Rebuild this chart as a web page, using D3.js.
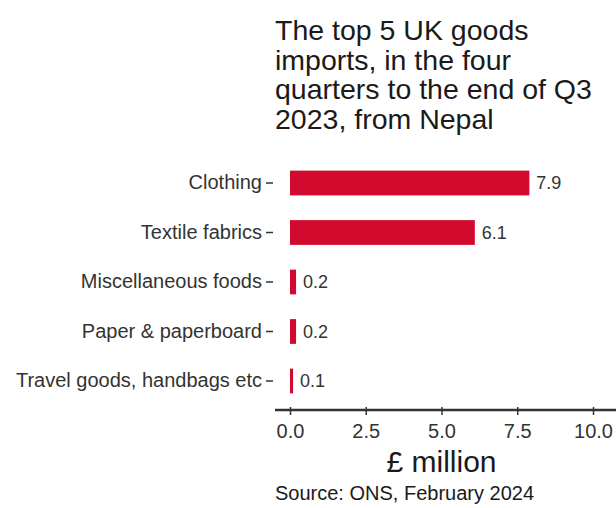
<!DOCTYPE html>
<html>
<head>
<meta charset="utf-8">
<script src="https://cdn.jsdelivr.net/npm/d3@7"></script>
<style>
  body { margin: 0; background: #fff; }
  svg { display: block; font-family: "Liberation Sans", Arial, sans-serif; }
</style>
</head>
<body>
<div id="chart"></div>
<script>
const categories = ["Clothing", "Textile fabrics", "Miscellaneous foods", "Paper & paperboard", "Travel goods, handbags etc"];
const values = [7.9, 6.1, 0.2, 0.2, 0.1];
const xTicks = [0, 2.5, 5, 7.5, 10];
const titleLines = ["The top 5 UK goods", "imports, in the four", "quarters to the end of Q3", "2023, from Nepal"];

const width = 616, height = 508;

const svg = d3.select("#chart")
    .append("svg")
    .attr("width", width)
    .attr("height", height);

const x = d3.scaleLinear()
    .domain([0, 10])
    .range([290, 593]);

const y = d3.scaleBand()
    .domain(categories)
    .range([158.25, 405.75])
    .paddingInner(0.5)
    .paddingOuter(0.25);

// title
svg.append("text")
    .attr("x", 275)
    .attr("y", 40)
    .style("font-size", "28.5px")
    .attr("fill", "#1a1a1a")
    .selectAll("tspan")
    .data(titleLines)
    .join("tspan")
    .attr("x", 275)
    .attr("dy", (d, i) => i === 0 ? 0 : 29.5)
    .text(d => d);

// bars
svg.selectAll(".bar")
    .data(values)
    .join("rect")
    .attr("class", "bar")
    .attr("x", x(0))
    .attr("y", (d, i) => y(categories[i]))
    .attr("width", d => x(d) - x(0))
    .attr("height", y.bandwidth())
    .attr("fill", "#d20a2e");

// value labels
svg.selectAll(".val")
    .data(values)
    .join("text")
    .attr("class", "val")
    .attr("x", d => x(d) + 7)
    .attr("y", (d, i) => y(categories[i]) + y.bandwidth() / 2)
    .attr("dy", "0.35em")
    .style("font-size", "18px")
    .attr("fill", "#333")
    .text(d => d.toFixed(1));

// y axis
const yAxis = svg.append("g")
    .attr("transform", "translate(273,0)")
    .call(d3.axisLeft(y).tickSize(7).tickPadding(4));
yAxis.select(".domain").remove();
yAxis.selectAll(".tick line").attr("stroke", "#333").attr("stroke-width", 1.5);
yAxis.selectAll(".tick text")
    .style("font-size", "20px")
    .style("font-family", "Liberation Sans, Arial, sans-serif")
    .attr("fill", "#333");

// x axis
const xAxis = svg.append("g")
    .attr("transform", "translate(0,410)")
    .call(d3.axisBottom(x).tickValues(xTicks).tickFormat(d3.format(".1f")).tickSize(5).tickSizeOuter(0).tickPadding(9));
xAxis.select(".domain").remove();
xAxis.append("line")
    .attr("x1", 275)
    .attr("x2", width)
    .attr("stroke", "#333")
    .attr("stroke-width", 2.5);
xAxis.selectAll(".tick line").attr("stroke", "#333").attr("y1", -3).attr("stroke-width", 1.5);
xAxis.selectAll(".tick text")
    .style("font-size", "20px")
    .style("font-family", "Liberation Sans, Arial, sans-serif")
    .attr("fill", "#333");

// x axis title
svg.append("text")
    .attr("x", (x(0) + x(10)) / 2)
    .attr("y", 472)
    .attr("text-anchor", "middle")
    .style("font-size", "30px")
    .attr("fill", "#1a1a1a")
    .text("£ million");

// source
svg.append("text")
    .attr("x", 275)
    .attr("y", 500)
    .style("font-size", "20px")
    .attr("fill", "#1a1a1a")
    .text("Source: ONS, February 2024");
</script>
</body>
</html>
